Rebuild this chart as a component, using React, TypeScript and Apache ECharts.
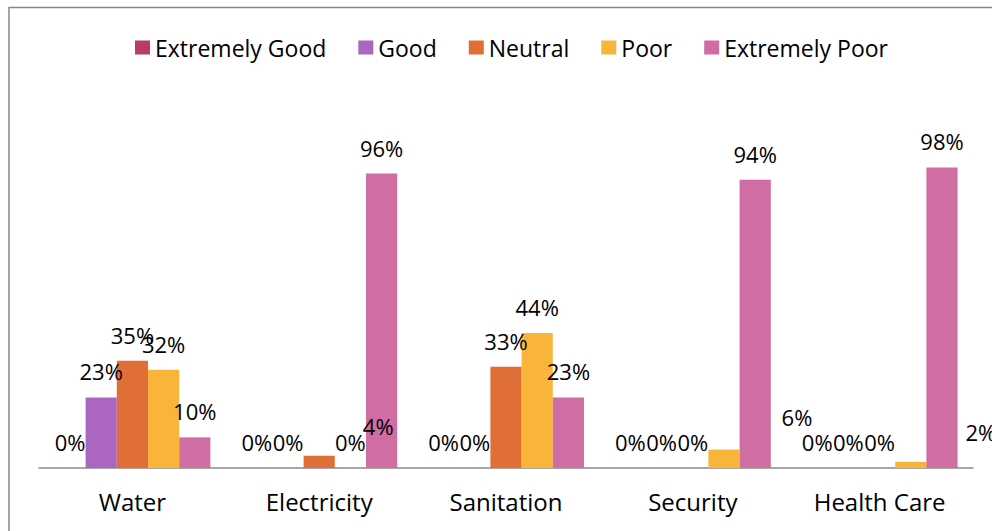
import React, { useEffect, useRef } from "react";
import * as echarts from "echarts";

const categories = ["Water", "Electricity", "Sanitation", "Security", "Health Care"];
const seriesNames = ["Extremely Good", "Good", "Neutral", "Poor", "Extremely Poor"];
const extremelyGood = [0, 0, 0, 0, 0];
const good = [23, 0, 0, 0, 0];
const neutral = [35, 4, 33, 0, 0];
const poor = [32, 0, 44, 6, 2];
const extremelyPoor = [10, 96, 23, 94, 98];
const colors = ["#BC3B66", "#AB67BF", "#E06E37", "#F9B53A", "#D06DA2"];

// manually moved data labels in the original: [seriesIndex, categoryIndex, dx, dy]
const movedLabels: [number, number, number, number][] = [
  [2, 1, 59, -4],
  [3, 3, 73, -7],
  [3, 4, 70, -4],
];

const FONT = "Open Sans";

export default function App() {
  const ref = useRef<HTMLDivElement>(null);
  useEffect(() => {
    if (!ref.current) return;
    const chart = echarts.init(ref.current, undefined, { renderer: "svg" });
    const allValues = [extremelyGood, good, neutral, poor, extremelyPoor];
    const series = allValues.map((vals, si) => ({
      name: seriesNames[si],
      type: "bar",
      barGap: "0%",
      barCategoryGap: "16.5%",
      itemStyle: { color: colors[si] },
      label: {
        show: true,
        position: "top",
        distance: 15,
        formatter: "{c}%",
        fontFamily: FONT,
        fontSize: 22,
        color: "#000",
      },
      data: vals.map((v, ci) => {
        const m = movedLabels.find((x) => x[0] === si && x[1] === ci);
        if (m) return { value: v, label: { offset: [m[2], m[3]] } };
        return v;
      }),
    }));
    chart.setOption({
      animation: false,
      color: colors,
      legend: {
        left: 130,
        top: 31,
        itemWidth: 15,
        itemHeight: 14,
        itemGap: 32,
        icon: "rect",
        textStyle: { fontFamily: FONT, fontSize: 23, color: "#000" },
        data: seriesNames,
      },
      grid: { left: 39, right: 19, top: 100, bottom: 63, containLabel: false },
      xAxis: {
        type: "category",
        data: categories,
        axisLine: { lineStyle: { color: "#8a8a8a", width: 1.5 } },
        axisTick: { show: false },
        axisLabel: { fontFamily: FONT, fontSize: 24, color: "#000", margin: 21 },
      },
      yAxis: { type: "value", min: 0, max: 120, show: false, splitLine: { show: false } },
      graphic: [
        {
          type: "rect",
          shape: { x: 9, y: 7.5, width: 1100, height: 700 },
          style: { fill: "none", stroke: "#868686", lineWidth: 1.5 },
          silent: true,
        },
      ],
      series,
    });
    return () => chart.dispose();
  }, []);
  return (
    <div
      ref={ref}
      style={{ position: "fixed", left: 0, top: 0, width: 992, height: 531, background: "#fff" }}
    />
  );
}
